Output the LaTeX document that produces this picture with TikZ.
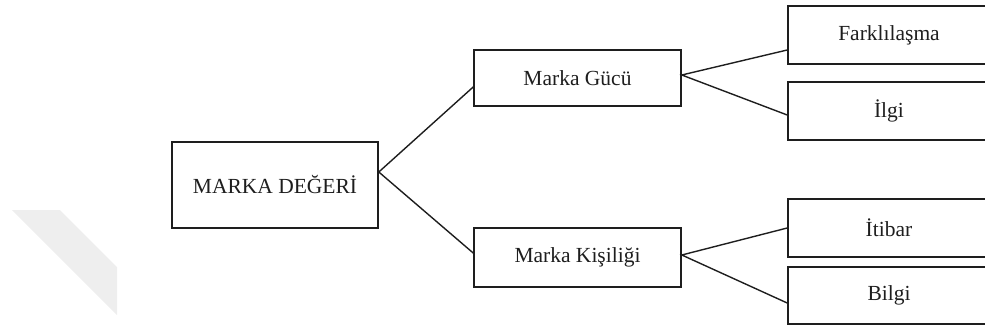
\documentclass[tikz,border=0pt]{standalone}
\usepackage{fontspec}
\setmainfont{Liberation Serif}
\definecolor{ink}{HTML}{1E1E1E}
\definecolor{bandgrey}{HTML}{EEEEEE}
\begin{document}
\begin{tikzpicture}[x=1pt,y=-1pt,
  box/.style={draw=ink, line width=1.6pt, rectangle, inner sep=0pt,
              font=\fontsize{21.5}{24}\selectfont, text=ink},
  link/.style={draw=ink, line width=1.4pt}]
  \useasboundingbox (0,0) rectangle (985,329);
  \clip (0,0) rectangle (985,329);

  % faint grey band in the lower left
  \fill[bandgrey] (12,210) -- (60,210) -- (117,267) -- (117,315) -- cycle;

  % root and first level
  \node[box, minimum width=206pt, minimum height=86pt] (root) at (275,185) {MARKA DEĞERİ};
  \node[box, minimum width=207pt, minimum height=56pt] (guc) at (577.5,78) {Marka Gücü};
  \node[box, minimum width=207pt, minimum height=59pt] (kis) at (577.5,257.5) {Marka Kişiliği};

  % second level (boxes run past the right edge)
  \node[box, minimum width=202pt, minimum height=58pt] (fark) at (889,35) {Farklılaşma};
  \node[box, minimum width=202pt, minimum height=58pt] (ilgi) at (889,111) {İlgi};
  \node[box, minimum width=202pt, minimum height=58pt] (itib) at (889,228) {İtibar};
  \node[box, minimum width=202pt, minimum height=57pt] (bilg) at (889,295.5) {Bilgi};

  % connectors
  \draw[link] ([yshift=-9pt]guc.west) -- ([yshift=13pt]root.east) -- ([yshift=4.5pt]kis.west);
  \draw[link] ([yshift=-15pt]fark.west) -- ([yshift=3pt]guc.east) -- ([yshift=-4pt]ilgi.west);
  \draw[link] (itib.west) -- ([yshift=2.5pt]kis.east) -- ([yshift=-7.5pt]bilg.west);
\end{tikzpicture}
\end{document}
